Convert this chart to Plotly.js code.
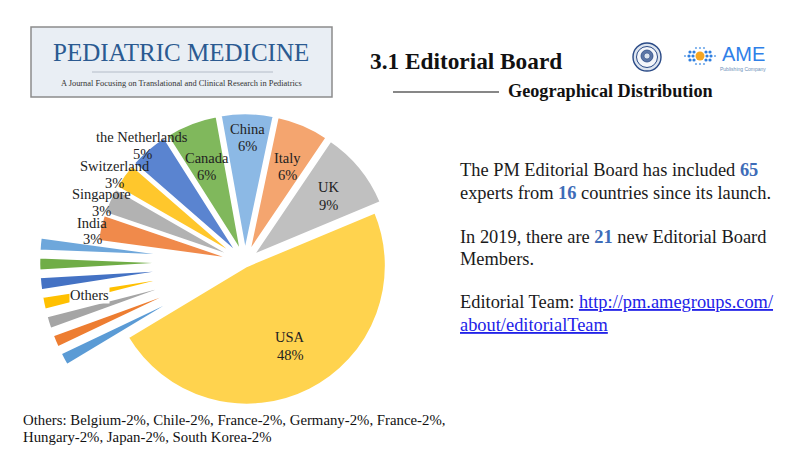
<!DOCTYPE html>
<html>
<head>
<meta charset="utf-8">
<script src="https://cdn.plot.ly/plotly-3.0.1.min.js"></script>
<style>
html,body{margin:0;padding:0;background:#fff;overflow:hidden;}
#chart{width:800px;height:500px;}
</style>
</head>
<body>
<div id="chart"></div>
<script>
// ---- data (experts per country, 65 in total) ----
const countries = ["Belgium","Chile","France","Germany","Hungary","Japan","South Korea",
  "India","Singapore","Switzerland","the Netherlands","Canada","China","Italy","UK","USA"];
const experts = [1,1,1,1,1,1,1, 2,2,2,3,4,4,4,6,31];
const sliceColors = ["#5B9BD5","#ED7D31","#A5A5A5","#FFC000","#4472C4","#70AD47","#6EA7DB",
  "#F08A4B","#B2B2B2","#FFC72C","#5A84D0","#80B85C","#8CB9E5","#F4A56F","#C0C0C0","#FFD34E"];
const isOther = [1,1,1,1,1,1,1, 0,0,0,0,0,0,0,0,0];
const labelled = ["India","Singapore","Switzerland","the Netherlands","Canada","China","Italy","UK","USA"];
const footerLines = ["Others: Belgium-2%, Chile-2%, France-2%, Germany-2%, France-2%,",
  "Hungary-2%, Japan-2%, South Korea-2%"];
const totalExperts = 65, totalCountries = 16, newMembers2019 = 21;

const W = 800, H = 500;
const px = x => x / W, py = y => 1 - y / H;
const total = experts.reduce((a, b) => a + b, 0);
const pct = v => Math.round(v / total * 100) + "%";

const pullArr = countries.map((c, i) => isOther[i] ? 0.48 : (c === "USA" ? 0.03 : 0.07));

const serif = "Liberation Serif, Times New Roman, serif";

const trace = {
  type: "pie", labels: countries, values: experts, sort: false,
  direction: "clockwise", rotation: 239,
  pull: pullArr,
  marker: {colors: sliceColors, line: {color: "#ffffff", width: 2.5}},
  textposition: "none",
  domain: {x: [39 / W, 451 / W], y: [1 - 468 / H, 1 - 56 / H]},
  hoverinfo: "skip", showlegend: false
};

const ann = [];
function txt(x, y, text, size, opts) {
  ann.push(Object.assign({xref: "paper", yref: "paper", x: px(x), y: py(y), text: text,
    showarrow: false, xanchor: "left", yanchor: "middle",
    font: {family: serif, size: size, color: "#111"}}, opts || {}));
}

// slice labels: [x, y of name line, y of percent line]
const labelPos = {
  "the Netherlands": [142, 137, 154], "Switzerland": [115, 166, 183], "Singapore": [101, 194, 211],
  "India": [92, 223, 239], "Canada": [207, 158, 175], "China": [247, 129, 146],
  "Italy": [287, 158, 175], "UK": [328, 187, 205], "USA": [290, 337, 355]
};
const lblFont = {family: serif, size: 14.5, color: "#222"};
labelled.forEach(c => {
  const i = countries.indexOf(c), p = labelPos[c];
  txt(p[0], p[1], c, 14.5, {xanchor: "center", font: lblFont});
  txt(p[0], p[2], pct(experts[i]), 14.5, {xanchor: "center", font: lblFont});
});
txt(89, 295, "Others", 14.5, {xanchor: "center", bgcolor: "#ffffff", borderpad: 0, font: lblFont});

// header logo
txt(181, 53, "PEDIATRIC MEDICINE", 25, {xanchor: "center", font: {family: serif, size: 25, color: "#2B5A91"}});
txt(181, 83, "A Journal Focusing on Translational and Clinical Research in Pediatrics", 8.4, {xanchor: "center", font: {family: serif, size: 8.4, color: "#333"}});

// titles
txt(368, 61, "<b>3.1 Editorial Board</b>", 23.3, {font: {family: serif, size: 23.3, color: "#111"}});
txt(506, 91, "<b>Geographical Distribution</b>", 18.2, {font: {family: serif, size: 18.2, color: "#111"}});

// AME logo text
txt(720, 54, "AME", 20, {font: {family: "Liberation Sans, Arial, sans-serif", size: 20, color: "#2F80E8"}});
txt(743, 69, "Publishing Company", 5, {xanchor: "center", font: {family: "Liberation Sans, Arial, sans-serif", size: 5, color: "#6C8FB8"}});

// right text
const blue = s => '<b><span style="color:#3E6CB8">' + s + '</span></b>';
const bodyFont = {family: serif, size: 18.4, color: "#1a1a1a"};
txt(458, 170, "The PM Editorial Board has included " + blue(totalExperts), 18.4, {font: bodyFont});
txt(458, 193, "experts from " + blue(totalCountries) + " countries since its launch.", 18.4, {font: bodyFont});
txt(458, 237, "In 2019, there are " + blue(newMembers2019) + " new Editorial Board", 18.4, {font: bodyFont});
txt(458, 259, "Members.", 18.4, {font: bodyFont});
txt(458, 302, 'Editorial Team: <span style="color:#2222E8"><u>http://pm.amegroups.com/</u></span>', 18.4, {font: bodyFont});
txt(458, 325, '<span style="color:#2222E8"><u>about/editorialTeam</u></span>', 18.4, {font: bodyFont});

// footer
const footFont = {family: serif, size: 14.8, color: "#111"};
txt(21, 420, footerLines[0], 14.8, {font: footFont});
txt(21, 437, footerLines[1], 14.8, {font: footFont});

// shapes
const shapes = [];
function rect(x0, y0, x1, y1, fill, line, lw) {
  shapes.push({type: "rect", xref: "paper", yref: "paper", x0: px(x0), x1: px(x1), y0: py(y0), y1: py(y1),
    fillcolor: fill, line: {color: line, width: lw}, layer: "below"});
}
function seg(x0, y0, x1, y1, color, w) {
  shapes.push({type: "line", xref: "paper", yref: "paper", x0: px(x0), x1: px(x1), y0: py(y0), y1: py(y1),
    line: {color: color, width: w}});
}
function circ(cx, cy, r, fill, line, lw) {
  shapes.push({type: "circle", xref: "paper", yref: "paper", x0: px(cx - r), x1: px(cx + r), y0: py(cy + r), y1: py(cy - r),
    fillcolor: fill, line: {color: line, width: lw}});
}
rect(31, 27, 332, 97, "#E9EEF4", "#8C8C8C", 1.5);
seg(92, 72, 273, 72, "#B4BCC8", 1);
seg(393, 92, 499, 92, "#111", 1.2);
// seal
circ(647, 57, 14, "#DCE4EF", "#2A4A86", 1.4);
circ(647, 57, 10.5, "#F4F6FA", "#2A4A86", 1);
circ(647, 56, 6, "#5C76A6", "#2A4A86", 0.8);
circ(647, 56, 3, "#DCE4EF", "#2A4A86", 0.6);
// AME dots (horizontal burst)
const dotRows = [[-8, [-4, 0, 4]], [-4, [-10, -6, 6, 10]], [0, [-15, -11, -7, 7, 11, 15]], [4, [-10, -6, 6, 10]], [8, [-4, 0, 4]]];
dotRows.forEach(row => row[1].forEach(dx => {
  const far = Math.abs(dx) > 12 || Math.abs(row[0]) > 6;
  circ(700 + dx, 56 + row[0], far ? 1.1 : 1.6, far ? "#6FA9EA" : "#2F7FE0", "rgba(0,0,0,0)", 0);
}));
circ(700, 56, 4.5, "#F5A623", "#F5A623", 0);

const layout = {
  width: W, height: H, margin: {l: 0, r: 0, t: 0, b: 0},
  paper_bgcolor: "#ffffff", plot_bgcolor: "#ffffff",
  annotations: ann, shapes: shapes, showlegend: false
};
Plotly.newPlot("chart", [trace], layout, {staticPlot: true, displayModeBar: false});
</script>
</body>
</html>
